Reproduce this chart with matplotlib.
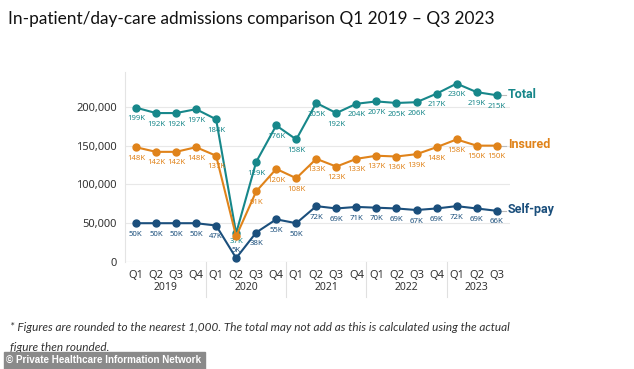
import matplotlib.pyplot as plt
from matplotlib.patches import Rectangle

# Data (thousands)
quarters = ["Q1", "Q2", "Q3", "Q4"] * 4 + ["Q1", "Q2", "Q3"]
years = ["2019", "2020", "2021", "2022", "2023"]
year_centers = [1.5, 5.5, 9.5, 13.5, 17]
total = [199, 192, 192, 197, 184, 37, 129, 176, 158, 205, 192, 204, 207, 205, 206, 217, 230, 219, 215]
insured = [148, 142, 142, 148, 137, 33, 91, 120, 108, 133, 123, 133, 137, 136, 139, 148, 158, 150, 150]
selfpay = [50, 50, 50, 50, 47, 5, 38, 55, 50, 72, 69, 71, 70, 69, 67, 69, 72, 69, 66]

c_total = "#17878a"
c_ins = "#e0831a"
c_self = "#1b4f7c"

fig = plt.figure(figsize=(6.34, 3.69), dpi=100)
ax = fig.add_axes([0.197, 0.29, 0.607, 0.515])

x = list(range(len(total)))
series = [(total, c_total, "Total"), (insured, c_ins, "Insured"), (selfpay, c_self, "Self-pay")]
for vals, col, name in series:
    ax.plot(x, [v * 1000 for v in vals], color=col, lw=1.5, marker="o", ms=5, zorder=3)
    for i, v in enumerate(vals):
        if name == "Insured" and i == 5:
            continue
        dy = -8
        if name == "Total" and i == 5:
            dy = -6
        if name == "Self-pay" and i == 5:
            dy = 5.5
        ax.annotate(f"{v}K", (i, v * 1000), xytext=(0, dy), textcoords="offset points",
                    ha="center", va="center", fontsize=5.6, color=col, fontweight="bold",
                    family="Noto Sans")
    # end label
    ax.plot([18.2, 18.45], [vals[-1] * 1000] * 2, color="#bbbbbb", lw=0.8, clip_on=False)
    ax.text(18.55, vals[-1] * 1000 + 1500, name, color=col, fontsize=9, fontweight="bold",
            va="center", ha="left", family="Roboto")

ax.set_xlim(-0.55, 18.65)
ax.set_ylim(0, 245000)
ax.set_yticks([0, 50000, 100000, 150000, 200000])
ax.set_yticklabels(["0", "50,000", "100,000", "150,000", "200,000"], fontsize=8, color="#333333",
                   family="Noto Sans")
ax.grid(axis="y", color="#e8e8e8", lw=0.8)
ax.set_axisbelow(True)
for s in ["top", "right", "bottom"]:
    ax.spines[s].set_visible(False)
ax.spines["left"].set_color("#e4e4e4")
ax.tick_params(length=0, pad=6)
ax.set_xticks(x)
ax.set_xticklabels(quarters, fontsize=8, color="#333333", family="Noto Sans")
ax.axhline(0, color="#e0e0e0", lw=0.8)

for b in [3.5, 7.5, 11.5, 15.5]:
    ax.plot([b, b], [0, -45000], color="#e0e0e0", lw=0.8, clip_on=False)
for yr, c in zip(years, year_centers):
    ax.text(c, -33000, yr, ha="center", va="center", fontsize=7.5, color="#333333",
            family="Noto Sans")

fig.text(0.013, 0.948, "In-patient/day-care admissions comparison Q1 2019 \u2013 Q3 2023",
         fontsize=12.4, family="Lato", color="#111111", va="center")
fig.text(0.016, 0.112, "* Figures are rounded to the nearest 1,000. The total may not add as this is calculated using the actual",
         fontsize=8.5, style="italic", family="Lato", color="#333333", va="center")
fig.text(0.016, 0.058, "figure then rounded.", fontsize=8.5, style="italic", family="Lato",
         color="#333333", va="center")
fig.patches.append(Rectangle((0.006, 0.0), 0.318, 0.047, transform=fig.transFigure,
                             color="#8a8a8a", zorder=5))
fig.text(0.009, 0.024, "\u00a9 Private Healthcare Information Network", fontsize=7.1,
         fontweight="bold", color="white", va="center", zorder=6, family="Liberation Sans")

fig.savefig("out.png", dpi=100)
